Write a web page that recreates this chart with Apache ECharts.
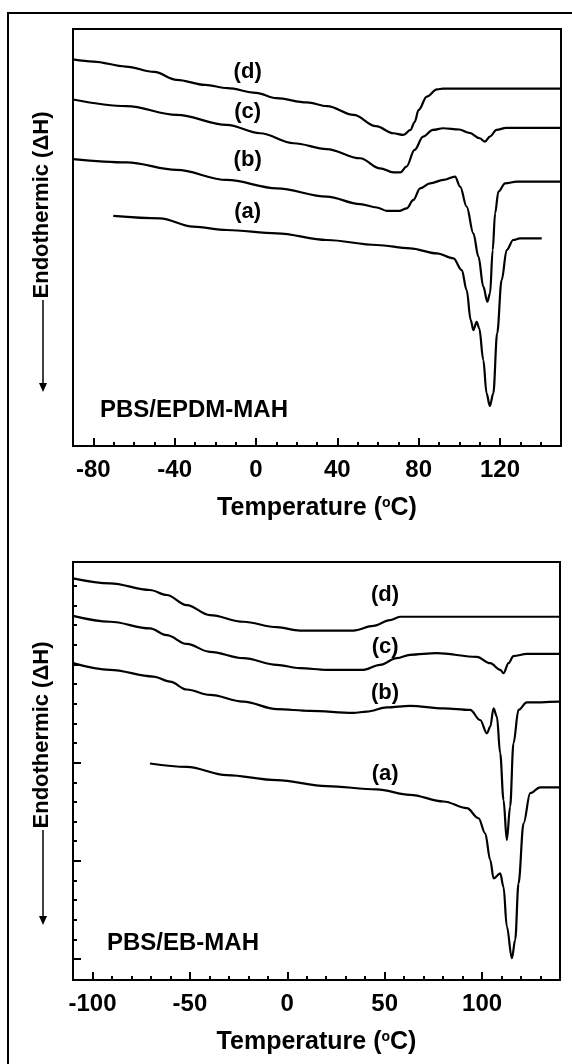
<!DOCTYPE html>
<html><head><meta charset="utf-8">
<script src="https://cdn.jsdelivr.net/npm/echarts@6/dist/echarts.min.js"></script>
<style>html,body{margin:0;padding:0;background:#fff}#c{width:572px;height:1064px}</style>
</head><body><div id="c"></div>
<script>
// ---- Data: DSC curves, temperature (°C) vs heat flow (a.u.) ----
// Panel 1: PBS/EPDM-MAH
const epdmA = [[-70.2,55.2],[-47.3,54.6],[-30.9,52.6],[-14.4,51.8],[10.2,51.0],[34.8,49.4],[59.4,48.2],[75.8,47.4],[88.9,46.2],[97.1,45.0],[101.2,42.2],[103.6,37.4],[105.6,30.2],[106.9,27.8],[108.5,29.8],[109.8,28.2],[111.8,20.6],[113.4,12.6],[115,9.6],[116.7,12.6],[118.6,27.0],[120.8,39.8],[123.3,47.0],[126.5,49.4],[129.8,49.8],[140.5,49.8]];
const epdmB = [[-90,68.8],[-63.6,68.0],[-39,66.2],[-14.4,63.8],[10.2,61.8],[34.8,59.8],[51.2,58.0],[59.4,57.2],[64.3,56.4],[70.8,56.4],[74.1,57.0],[77.4,59.0],[80.7,61.8],[85.6,63.0],[92.2,63.8],[97.9,64.6],[100.4,62.2],[103.6,57.4],[106.9,51.0],[109.4,45.4],[111.8,38.2],[113.8,34.6],[115.1,36.6],[116.4,47.0],[117.6,55.8],[119.2,61.0],[122.5,63.0],[128.3,63.4],[150,63.4]];
const epdmC = [[-90,83.1],[-63.6,81.5],[-39,79.4],[-14.4,77.0],[2,75.0],[18.5,72.6],[34.8,71.2],[51.2,69.0],[61,66.6],[67.6,65.6],[71,65.6],[74,67.0],[78,71.0],[82.2,74.2],[87,75.8],[92,76.2],[100,75.9],[105,75.1],[110,73.8],[112.6,73.0],[115,74.2],[118.3,75.8],[123,76.3],[150,76.3]];
const epdmD = [[-90,92.7],[-80,92.2],[-64,91.0],[-50,89.7],[-39,87.8],[-25,86.6],[-14,85.8],[0,84.7],[10,83.4],[25,82.4],[35,81.5],[48,79.4],[59,76.7],[67.6,75.0],[72.5,74.6],[76,75.8],[78,77.7],[80,80.6],[84,83.8],[89,85.5],[92,85.7],[150,85.7]];
// Panel 2: PBS/EB-MAH
const ebA = [[-70.5,51.8],[-51.6,51.0],[-31.1,49.0],[-5.4,47.8],[20.2,46.4],[45.9,45.6],[63,44.3],[80.2,42.7],[92.2,41.1],[98.2,38.7],[101.6,35.1],[104.2,28.7],[105.9,24.3],[109.3,25.5],[111,22.3],[112.7,12.8],[115.3,5.2],[117,9.6],[118.7,23.1],[121.3,37.5],[124.7,44.7],[129.8,46.1],[140,46.1]];
const ebB = [[-110,75.8],[-91,74.2],[-68.8,72.6],[-60.2,71.4],[-51.6,69.5],[-39.7,68.2],[-22.6,66.6],[-5.4,64.8],[11.7,64.4],[33.9,63.9],[40.8,64.2],[51.1,65.2],[63,65.6],[80.2,65.0],[93.9,64.6],[99,62.2],[102.5,59.0],[104.2,60.6],[105.9,65.0],[107.6,63.0],[109.3,54.2],[111,43.1],[112.7,33.5],[114.4,41.5],[116.1,56.6],[118.7,64.6],[123,66.4],[140,66.6]];
const ebC = [[-110,87.1],[-91,85.7],[-70.5,84.1],[-61.9,82.5],[-51.6,80.4],[-39.7,78.5],[-22.6,77.0],[-5.4,75.4],[6.5,74.6],[20.2,74.2],[39.1,74.2],[47.6,75.4],[56.2,77.0],[63,77.8],[76.7,78.2],[97.3,77.3],[104.2,75.8],[109.3,74.2],[111,73.4],[113.6,75.8],[116.1,77.5],[123,78.0],[140,78.0]];
const ebD = [[-110,96.1],[-91,94.9],[-70.5,93.3],[-61.9,92.1],[-51.6,89.7],[-39.7,87.3],[-22.6,85.7],[-5.4,84.4],[6.5,83.6],[33.9,83.6],[44.2,84.7],[52.7,86.1],[57.9,86.9],[140,86.9]];
// Curve labels (name, temperature, level)
const curveNames = ['(d)','(c)','(b)','(a)'];
const epdmLabelT = [-4.1,-4.1,-4.1,-4.1];
const epdmLabelY = [89.8,80.2,68.6,56.2];
const ebLabelT = [50.2,50.2,50.2,50.2];
const ebLabelY = [92.1,79.7,68.6,49.4];
// Axis ticks
const epdmMajor = [-80,-40,0,40,80,120];
const epdmMinor = [-90,-70,-60,-50,-30,-20,-10,10,20,30,50,60,70,90,100,110,130,140,150];
const ebMajor = [-100,-50,0,50,100];
const ebMinor = [-110,-90,-80,-70,-60,-40,-30,-20,-10,10,20,30,40,60,70,80,90,110,120,130,140];
const ebYMajor = [5.0,28.5,52.0,75.5];
const ebYMinor = [9.7,14.4,19.1,23.8,33.2,37.9,42.6,47.3,56.7,61.4,66.1,70.8,80.2,84.9,89.6,94.3];
const panelNames = ['PBS/EPDM-MAH','PBS/EB-MAH'];
const xTitle = '{a|Temperature (}{s|o}{a|C)}';
const yTitle = 'Endothermic (\u0394H)';

const FF = '"Liberation Sans", Arial, Helvetica, sans-serif';
const chart = echarts.init(document.getElementById('c'), null, {renderer:'canvas'});
const tick = {color:'#000', fontFamily:FF, fontWeight:'bold', fontSize:24};
const nameStyle = {rich:{a:{color:'#000',fontFamily:FF,fontWeight:'bold',fontSize:25}, s:{color:'#000',fontFamily:FF,fontWeight:'bold',fontSize:14,verticalAlign:'top'}}};

function mainX(grid,min,max,major){
  return {type:'value',gridIndex:grid,min,max,position:'bottom',
    axisLine:{show:true,onZero:false,lineStyle:{color:'#000',width:2}},
    axisTick:{show:true,inside:true,length:8,lineStyle:{color:'#000',width:2},customValues:major},
    axisLabel:{show:true,margin:12,...tick,customValues:major},
    splitLine:{show:false},
    name:xTitle,nameLocation:'middle',nameGap:50,nameTextStyle:nameStyle};
}
function minorX(grid,min,max,minor){
  return {type:'value',gridIndex:grid,min,max,position:'bottom',
    axisLine:{show:false,onZero:false},axisLabel:{show:false},splitLine:{show:false},
    axisTick:{show:true,inside:true,length:4,lineStyle:{color:'#000',width:2},customValues:minor}};
}
function yAx(grid,ticks,len){
  return {type:'value',gridIndex:grid,min:0,max:100,position:'left',
    axisLine:{show:ticks==null?true:false,onZero:false,lineStyle:{color:'#000',width:2}},
    axisTick:ticks?{show:true,inside:true,length:len,lineStyle:{color:'#000',width:2},customValues:ticks}:{show:false},
    axisLabel:{show:false},splitLine:{show:false}};
}
function line(data,xi,yi){
  return {type:'line',data,xAxisIndex:xi,yAxisIndex:yi,showSymbol:false,symbol:'none',
    smooth:0.35,smoothMonotone:'x',lineStyle:{color:'#000',width:2.2},silent:true,animation:false,z:3};
}
function yName(cx,cy,arrowTop,arrowBottom){
  return [
    {type:'text',x:cx,y:cy,rotation:Math.PI/2,style:{text:yTitle,fill:'#000',font:'bold 22px '+FF,align:'center',verticalAlign:'middle'}},
    {type:'line',shape:{x1:cx+1,y1:arrowTop,x2:cx+1,y2:arrowBottom-4},style:{stroke:'#000',lineWidth:1.5}},
    {type:'polygon',shape:{points:[[cx-3,arrowBottom-9],[cx+5,arrowBottom-9],[cx+1,arrowBottom]]},style:{fill:'#000'}}
  ];
}

const option = {
  animation:false,
  grid:[
    {left:73,top:29,width:488,height:417,show:true,borderColor:'#000',borderWidth:2,backgroundColor:'transparent'},
    {left:73,top:562,width:487,height:418,show:true,borderColor:'#000',borderWidth:2,backgroundColor:'transparent'}
  ],
  xAxis:[mainX(0,-90,150,epdmMajor),minorX(0,-90,150,epdmMinor),mainX(1,-110,140,ebMajor),minorX(1,-110,140,ebMinor)],
  yAxis:[yAx(0,null,0),yAx(1,ebYMajor,8),yAx(1,ebYMinor,4)],
  series:[
    line(epdmA,0,0),line(epdmB,0,0),line(epdmC,0,0),line(epdmD,0,0),
    line(ebA,2,1),line(ebB,2,1),line(ebC,2,1),line(ebD,2,1)
  ]
};
chart.setOption(option);

// curve labels positioned through the axes' scales
function curveLabels(T,Y,xi,yi){
  return curveNames.map((n,i)=>{
    const p = chart.convertToPixel({xAxisIndex:xi,yAxisIndex:yi},[T[i],Y[i]]);
    return {type:'text',x:p[0],y:p[1],style:{text:n,fill:'#000',font:'bold 22px '+FF,align:'center',verticalAlign:'middle'},z:10};
  });
}
chart.setOption({graphic:[
  {type:'rect',shape:{x:8,y:13,width:620,height:1120},style:{fill:'none',stroke:'#000',lineWidth:2},silent:true},
  {type:'text',x:100,y:410,style:{text:panelNames[0],fill:'#000',font:'bold 24px '+FF,verticalAlign:'middle'}},
  {type:'text',x:107,y:943,style:{text:panelNames[1],fill:'#000',font:'bold 24px '+FF,verticalAlign:'middle'}},
  ...yName(42,205,300,392),
  ...yName(42,735,830,925),
  ...curveLabels(epdmLabelT,epdmLabelY,0,0),
  ...curveLabels(ebLabelT,ebLabelY,2,1)
]});
</script></body></html>
